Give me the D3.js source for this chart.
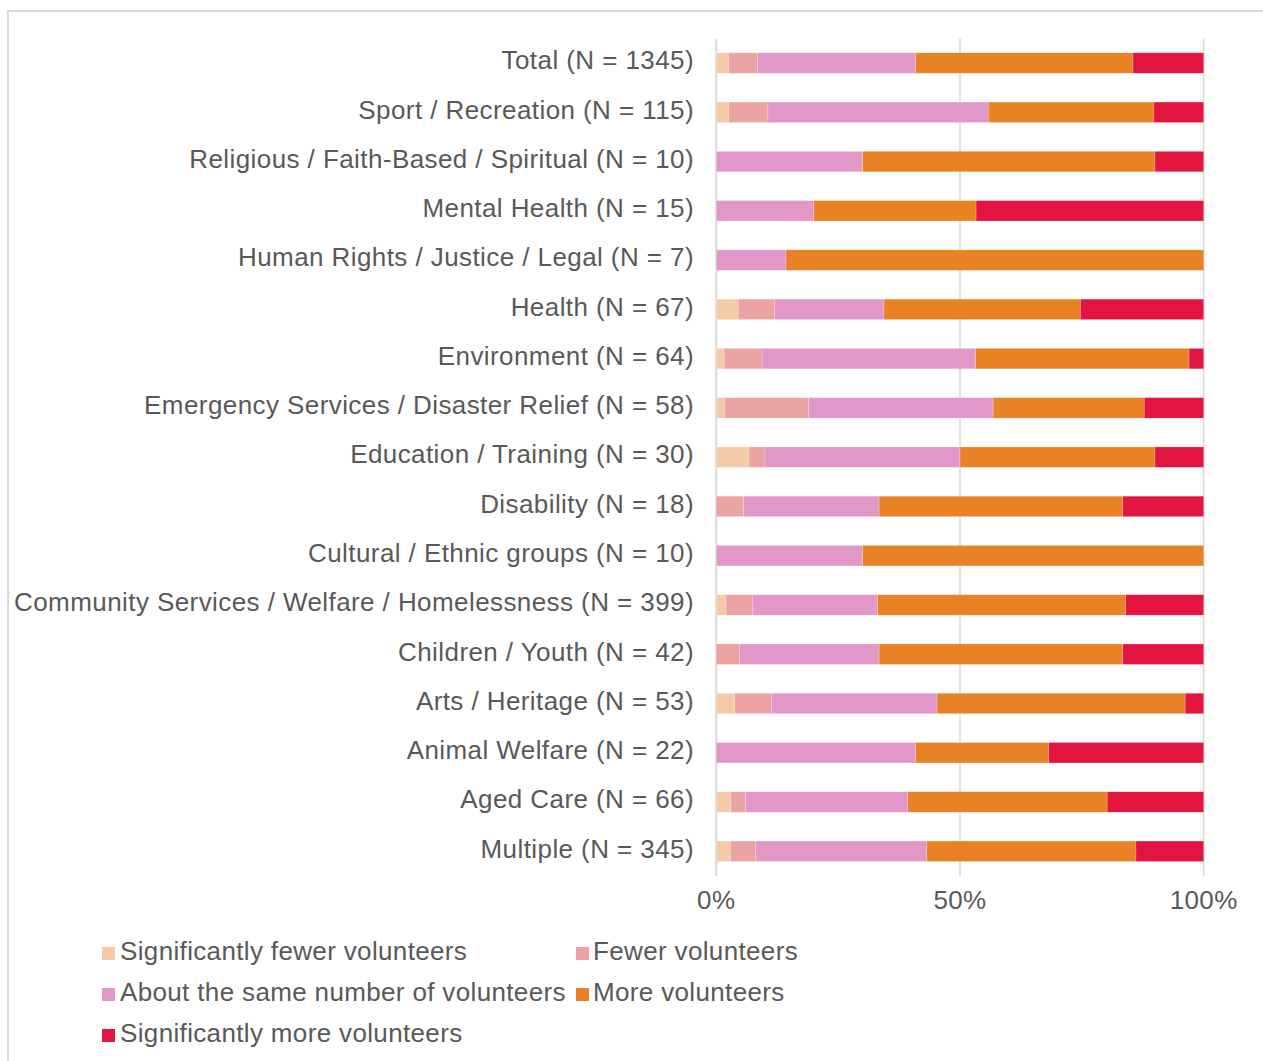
<!DOCTYPE html>
<html>
<head>
<meta charset="utf-8">
<script src="https://cdn.jsdelivr.net/npm/d3@7"></script>
<style>
  html, body { margin: 0; padding: 0; background: #fff; }
  svg { display: block; }
  text { font-family: "Liberation Sans", Arial, Helvetica, sans-serif; fill: #595959; }
</style>
</head>
<body>
<svg id="chart" width="1263" height="1061"></svg>
<script>
const categories = [
  "Total (N = 1345)",
  "Sport / Recreation (N = 115)",
  "Religious / Faith-Based / Spiritual (N = 10)",
  "Mental Health (N = 15)",
  "Human Rights / Justice / Legal (N = 7)",
  "Health (N = 67)",
  "Environment (N = 64)",
  "Emergency Services / Disaster Relief (N = 58)",
  "Education / Training (N = 30)",
  "Disability (N = 18)",
  "Cultural / Ethnic groups (N = 10)",
  "Community Services / Welfare / Homelessness (N = 399)",
  "Children / Youth (N = 42)",
  "Arts / Heritage (N = 53)",
  "Animal Welfare (N = 22)",
  "Aged Care (N = 66)",
  "Multiple (N = 345)"
];
const seriesNames = [
  "Significantly fewer volunteers",
  "Fewer volunteers",
  "About the same number of volunteers",
  "More volunteers",
  "Significantly more volunteers"
];
const sigFewer  = [2.5, 2.5, 0, 0, 0, 4.5, 1.6, 1.7, 6.7, 0, 0, 2.0, 0, 3.8, 0, 3.0, 2.9];
const fewer     = [6.0, 8.1, 0, 0, 0, 7.5, 7.8, 17.2, 3.3, 5.6, 0, 5.5, 4.8, 7.5, 0, 3.0, 5.2];
const same      = [32.4, 45.2, 30, 20, 14.3, 22.4, 43.8, 37.9, 40, 27.8, 30, 25.6, 28.6, 34.0, 40.9, 33.3, 35.1];
const more      = [44.6, 34.0, 60, 33.3, 85.7, 40.3, 43.8, 31.0, 40, 50, 70, 50.9, 50, 50.9, 27.3, 40.9, 42.9];
const sigMore   = [14.5, 10.2, 10, 46.7, 0, 25.3, 3.0, 12.2, 10, 16.6, 0, 16.0, 16.6, 3.8, 31.8, 19.8, 13.9];
const tickValues = [0, 50, 100];
const tickLabels = ["0%", "50%", "100%"];
const colors = ["#F5CBA7", "#EBA3A3", "#E198C8", "#E98125", "#E3143F"];

const svg = d3.select("#chart");

// frame
svg.append("path")
  .attr("d", "M8,1061 V11 H1263")
  .attr("fill", "none")
  .attr("stroke", "#D9D9D9")
  .attr("stroke-width", 2);

const x = d3.scaleLinear().domain([0, 100]).range([716.3, 1203.7]);
const y = d3.scaleBand().domain(categories).range([38.4, 875.9]).paddingInner(0.585).paddingOuter(0.2925);

// gridlines
svg.append("g").selectAll("line")
  .data(tickValues)
  .join("line")
  .attr("x1", d => x(d)).attr("x2", d => x(d))
  .attr("y1", 38.4).attr("y2", 875.9)
  .attr("stroke", "#D9D9D9")
  .attr("stroke-width", d => d === 0 ? 2 : 1.5);

// stacked data
const rows = categories.map((c, i) => ({
  cat: c,
  s0: sigFewer[i], s1: fewer[i], s2: same[i], s3: more[i], s4: sigMore[i]
}));
const stack = d3.stack().keys(["s0", "s1", "s2", "s3", "s4"]);
const stacked = stack(rows);

svg.append("g").selectAll("g")
  .data(stacked)
  .join("g")
  .attr("fill", (d, i) => colors[i])
  .selectAll("rect")
  .data(d => d)
  .join("rect")
  .attr("x", d => x(d[0]))
  .attr("width", d => Math.max(0, x(d[1]) - x(d[0])))
  .attr("y", d => y(d.data.cat))
  .attr("height", y.bandwidth())
  .attr("stroke", "rgba(255,255,255,0.35)")
  .attr("stroke-width", 0.6);

// category labels
svg.append("g").selectAll("text")
  .data(categories)
  .join("text")
  .attr("x", 694)
  .attr("y", d => y(d) + y.bandwidth() / 2 + 6.3)
  .attr("text-anchor", "end")
  .attr("font-size", 26)
  .attr("letter-spacing", 0.42)
  .text(d => d);

// x axis tick labels
svg.append("g").selectAll("text")
  .data(tickValues)
  .join("text")
  .attr("x", d => x(d))
  .attr("y", 909)
  .attr("text-anchor", "middle")
  .attr("font-size", 26)
  .attr("letter-spacing", 0.4)
  .text((d, i) => tickLabels[i]);

// legend
const legendPos = [
  {sx: 102, tx: 120, by: 961},
  {sx: 576, tx: 593, by: 961},
  {sx: 102, tx: 120, by: 1002},
  {sx: 576, tx: 593, by: 1002},
  {sx: 102, tx: 120, by: 1043}
];
const lg = svg.append("g").selectAll("g")
  .data(seriesNames)
  .join("g");
lg.append("rect")
  .attr("x", (d, i) => legendPos[i].sx)
  .attr("y", (d, i) => legendPos[i].by - 14)
  .attr("width", 13).attr("height", 13)
  .attr("fill", (d, i) => colors[i]);
lg.append("text")
  .attr("x", (d, i) => legendPos[i].tx)
  .attr("y", (d, i) => legendPos[i].by - 1.5)
  .attr("font-size", 26)
  .attr("letter-spacing", 0.35)
  .text(d => d);
</script>
</body>
</html>
